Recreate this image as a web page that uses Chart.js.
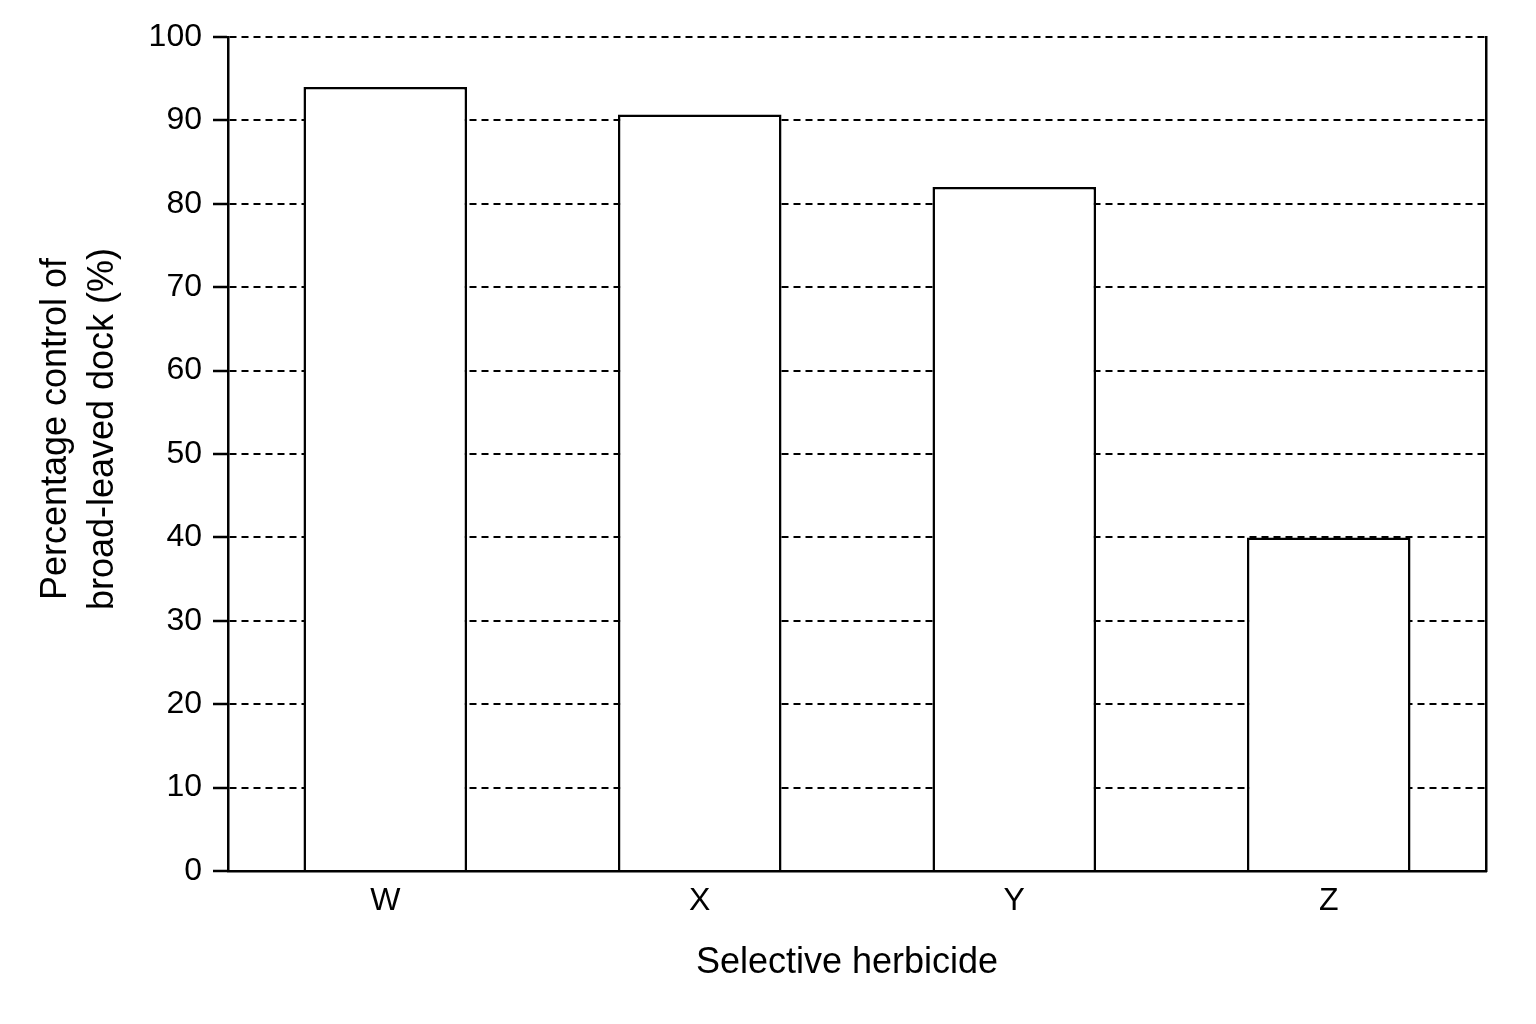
<!DOCTYPE html>
<html>
<head>
<meta charset="utf-8">
<script src="https://cdn.jsdelivr.net/npm/chart.js@4/dist/chart.umd.min.js"></script>
<style>
  html, body { margin: 0; padding: 0; background: #fff; }
  #wrap { width: 1536px; height: 1024px; }
</style>
</head>
<body>
<div id="wrap"><canvas id="myChart" width="1536" height="1024"></canvas></div>
<script>
const herbicides = ['W', 'X', 'Y', 'Z'];
const controlPct = [94, 90.7, 82, 40];
const yTickValues = [0, 10, 20, 30, 40, 50, 60, 70, 80, 90, 100];

const fontName = '"Liberation Sans", Arial, Helvetica, sans-serif';

const data = {
    labels: herbicides,
    datasets: [{
        label: 'Percentage control',
        data: controlPct,
        backgroundColor: '#ffffff',
        borderColor: '#000000',
        borderWidth: 2.5,
        barPercentage: 0.52,
        categoryPercentage: 1.0
    }]
};

const config = {
    type: 'bar',
    data: data,
    options: {
        responsive: false,
        animation: false,
        devicePixelRatio: 1,
        layout: {
            padding: { top: 37, right: 50, left: 0, bottom: 0 }
        },
        plugins: {
            legend: { display: false },
            tooltip: { enabled: false }
        },
        scales: {
            x: {
                grid: { display: false, drawTicks: false },
                border: { display: true, color: '#000', width: 2.5 },
                ticks: {
                    color: '#000',
                    padding: 11,
                    font: { family: fontName, size: 32 }
                },
                title: {
                    display: true,
                    text: 'Selective herbicide  ',
                    color: '#000',
                    font: { family: fontName, size: 36 },
                    padding: { top: 0, bottom: 39 }
                },
                afterFit: function (axis) { axis.height = 153; }
            },
            y: {
                min: 0,
                max: 100,
                afterBuildTicks: function (axis) {
                    axis.ticks = yTickValues.map(v => ({ value: v }));
                },
                grid: {
                    color: '#000',
                    lineWidth: 2,
                    tickLength: 15,
                    tickColor: '#000',
                    tickWidth: 2.5,
                    tickBorderDash: []
                },
                border: { display: true, color: '#000', width: 2.5, dash: [7, 5] },
                ticks: {
                    color: '#000',
                    padding: 11,
                    font: { family: fontName, size: 32 }
                },
                title: {
                    display: true,
                    text: ['     Percentage control of', '     broad-leaved dock (%)'],
                    color: '#000',
                    font: { family: fontName, size: 36, lineHeight: 1.3 },
                    padding: { top: 33, bottom: 0 }
                },
                afterFit: function (axis) { axis.width = 228; }
            },
            yRight: {
                position: 'right',
                min: 0,
                max: 100,
                grid: { display: false, drawTicks: false },
                ticks: { display: false },
                border: { display: true, color: '#000', width: 2.5 },
                afterFit: function (axis) { axis.width = 0; }
            }
        }
    }
};

const myChart = new Chart(
    document.getElementById('myChart'),
    config
);
</script>
</body>
</html>
